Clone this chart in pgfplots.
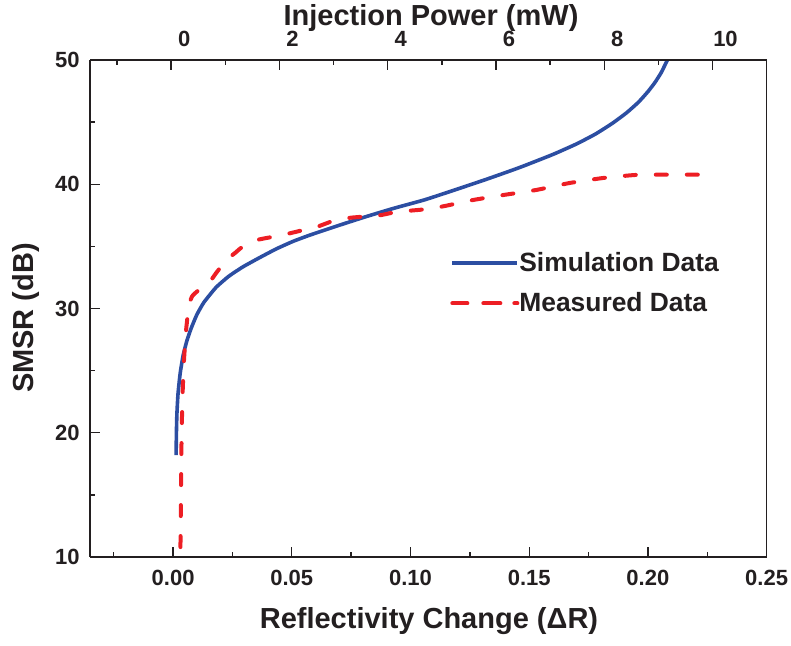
\documentclass[border=0pt]{standalone}
\usepackage{fontspec}
\setmainfont{Liberation Sans}
\usepackage{pgfplots}
\pgfplotsset{compat=1.18}
\definecolor{simblue}{RGB}{44,78,162}
\definecolor{measred}{RGB}{237,30,36}
\definecolor{ink}{RGB}{35,31,32}

\pgfplotstableread{
x y
0.00127 18.2
0.0014 20.0
0.0016 21.5
0.0021 23.2
0.0030 24.8
0.0042 26.2
0.0058 27.4
0.0076 28.4
0.0100 29.5
0.0130 30.5
0.0181 31.7
0.0235 32.6
0.0294 33.35
0.0365 34.1
0.0435 34.8
0.0505 35.4
0.0575 35.9
0.0645 36.35
0.0716 36.8
0.0814 37.4
0.0927 38.05
0.106 38.75
0.118 39.5
0.132 40.4
0.146 41.35
0.160 42.4
0.170 43.25
0.178 44.05
0.185 44.9
0.191 45.75
0.196 46.6
0.200 47.45
0.203 48.2
0.2055 48.95
0.2072 49.6
0.2082 50
}\simdata

\pgfplotstableread{
x y
0.0031 10.8
0.0033 14.6
0.0035 18.6
0.0039 22.6
0.0046 25.85
0.0055 28.3
0.0067 30.3
0.0081 31.0
0.0103 31.4
0.0124 31.6
0.0153 32.1
0.0183 32.9
0.0225 33.9
0.0263 34.5
0.0288 34.9
0.0351 35.5
0.0415 35.75
0.048 36.0
0.0546 36.3
0.061 36.6
0.0673 37.04
0.0745 37.3
0.0807 37.4
0.0871 37.5
0.0942 37.77
0.107 38.0
0.1145 38.25
0.1263 38.73
0.139 39.13
0.153 39.54
0.167 40.1
0.181 40.5
0.195 40.75
0.209 40.77
0.227 40.77
}\measdata

\pgfplotsset{
  measlegend/.style={legend image code/.code={%
    \draw[measred, line width=2pt, line cap=round, dash pattern=on 6.5pt off 10pt] (1pt,0pt) -- (26pt,0pt);
    \path (0pt,0pt) -- (32.5pt,0pt);}},
}

\begin{document}
\begin{tikzpicture}
\pgfplotsset{
  common/.style={
    scale only axis, width=338.3pt, height=248.5pt,
    ymin=10, ymax=50,
    axis line style={ink, line width=0.7pt},
    tick style={ink, line width=0.7pt},
    tick align=inside,
    major tick length=5pt, minor tick length=2.6pt,
    ticklabel style={font=\fontsize{11}{13}\selectfont\bfseries, text=ink},
    label style={font=\fontsize{14.5}{17}\selectfont\bfseries, text=ink},
  }
}
\begin{axis}[common, name=main,
  xmin=-0.035, xmax=0.25,
  axis x line*=bottom, axis y line*=left,
  xtick={0,0.05,0.1,0.15,0.2,0.25},
  xticklabels={0.00,0.05,0.10,0.15,0.20,0.25},
  minor xtick={-0.025,0.025,0.075,0.125,0.175,0.225},
  ytick={10,20,30,40,50},
  yticklabels={10,20,30,40,50},
  minor ytick={15,25,35,45},
  xticklabel style={anchor=north, inner sep=0pt, yshift=-6.5pt},
  yticklabel style={anchor=east, inner sep=0pt, xshift=-5pt},
  xlabel={Reflectivity Change (ΔR)},
  xlabel style={at={(axis description cs:0.501,-0.1429)}, anchor=base},
  ylabel={SMSR (dB)},
  ylabel style={at={(axis description cs:-0.0842,0.481)}, anchor=base},
  legend style={at={(axis description cs:0.532,0.6143)}, anchor=north west,
    draw=none, fill=none, inner sep=0pt, row sep=9pt, column sep=0pt,
    font=\fontsize{13.2}{15}\selectfont\bfseries, text=ink,
    nodes={inner sep=0pt}},
  legend cell align=left,
  legend image code/.code={\draw[#1] (0pt,0pt) -- (32.5pt,0pt);},
]
\addplot[simblue, line width=1.8pt, smooth, tension=0.3] table[x=x,y=y] {\simdata};
\addlegendentry{Simulation Data}
\addplot[measred, line width=2pt, dash pattern=on 5.5pt off 10pt, line cap=round, smooth, tension=0.3, measlegend]
  table[x=x,y=y] {\measdata};
\addlegendentry{Measured Data}
\end{axis}
\begin{axis}[common,
  xmin=-1.5, xmax=11,
  axis x line*=top, axis y line*=right,
  xtick={0,2,4,6,8,10},
  xticklabels={0,2,4,6,8,10},
  minor xtick={-1,1,3,5,7,9},
  xticklabel style={anchor=south, inner sep=0pt, yshift=6.5pt, xshift=6.5pt},
  ytick=\empty,
  minor ytick={12.5,15,17.5,20,22.5,25,27.5,30,32.5,35,37.5,40,42.5,45,47.5},
  xlabel={Injection Power (mW)},
  xlabel style={at={(axis description cs:0.504,1.0704)}, anchor=base},
]
\end{axis}
\pgfresetboundingbox
\path[use as bounding box] (main.south west) ++(-45pt,-44.5pt) rectangle ++(395.5pt,323pt);
\end{tikzpicture}
\end{document}
